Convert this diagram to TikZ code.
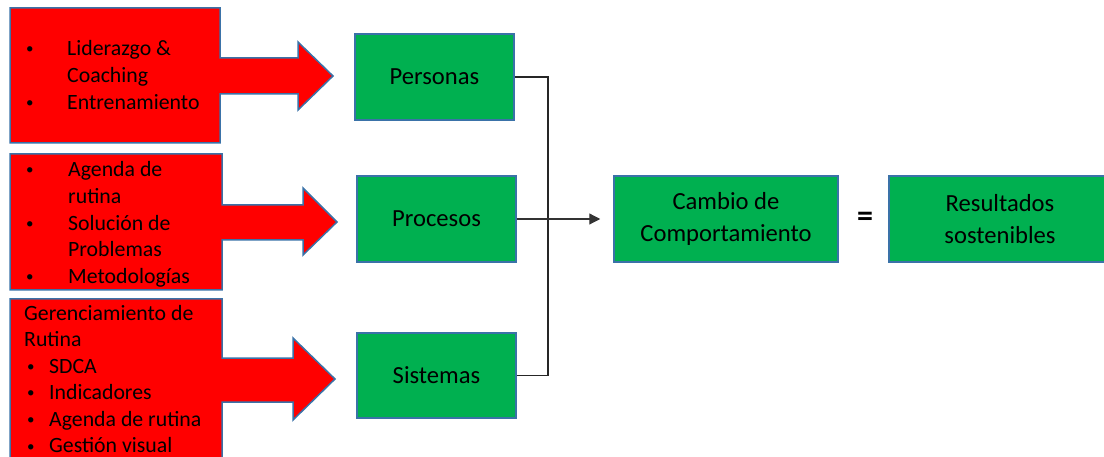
\documentclass[tikz,border=0pt]{standalone}
\usepackage{fontspec}
\setmainfont{Carlito}
\usetikzlibrary{arrows.meta,calc}
\definecolor{redfill}{HTML}{FF0000}
\definecolor{greenfill}{HTML}{00B050}
\definecolor{edgeblue}{HTML}{3A72A8}
\newcommand\bulitem[1]{\makebox[#1pt][l]{\hspace{3pt}\raisebox{2pt}{\fontsize{15}{15}\selectfont •}}}
\tikzset{
  redshape/.style={fill=redfill, draw=edgeblue, line width=1.5pt, line join=miter},
  redtext/.style={anchor=base west, inner sep=0pt, font=\fontsize{21.8}{26.6}\selectfont, text=black},
  greenbox/.style={rectangle, fill=greenfill, draw=edgeblue, line width=1.5pt, inner sep=0pt, align=center,
     font=\fontsize{24.6}{32}\selectfont, text=black},
  conn/.style={draw=black!85, line width=1.6pt},
  arr/.style={draw=black!80, line width=1.2pt, -{Triangle[length=11pt,width=11pt]}},
}
\begin{document}
\begin{tikzpicture}[x=1pt,y=-1pt]
\useasboundingbox (0,0) rectangle (1104,457);
% red block arrows
\path[redshape] (10,8)--(220,8)--(220,58)--(298,58)--(298,42)--(333,76)--(298,110)--(298,94)--(220,94)--(220,143)--(10,143)--cycle;
\path[redshape] (10,154)--(222,154)--(222,205)--(303,205)--(303,188)--(337,222)--(303,255)--(303,240)--(222,240)--(222,290)--(10,290)--cycle;
\path[redshape] (10,299)--(222,299)--(222,358)--(293,358)--(293,338)--(335,379)--(293,420)--(293,402)--(222,402)--(222,475)--(10,475)--cycle;
% texts
\node[redtext] (t1) at (23,56) {\begin{tabular}[t]{@{}l@{}}
\bulitem{44}Liderazgo \&\\
\hspace{44pt}Coaching\\
\bulitem{44}Entrenamiento
\end{tabular}};
\node[redtext] (t2) at (23,177) {\begin{tabular}[t]{@{}l@{}}
\bulitem{45}Agenda de\\
\hspace{45pt}rutina\\
\bulitem{45}Solución de\\
\hspace{45pt}Problemas\\
\bulitem{45}Metodologías
\end{tabular}};
\node[redtext] (t3) at (24,320) {\begin{tabular}[t]{@{}l@{}}
Gerenciamiento de\\
Rutina\\
\bulitem{25}SDCA\\
\bulitem{25}Indicadores\\
\bulitem{25}Agenda de rutina\\
\bulitem{25}Gestión visual
\end{tabular}};
% green boxes
\node[greenbox, minimum width=159pt, minimum height=86pt] (pers) at (434.5,77) {Personas};
\node[greenbox, minimum width=159pt, minimum height=86pt] (proc) at (436.5,219) {Procesos};
\node[greenbox, minimum width=159pt, minimum height=85pt] (sist) at (436.5,375.5) {Sistemas};
\node[greenbox, minimum width=224pt, minimum height=86pt] (camb) at (726,219) {Cambio de\\Comportamiento};
\node[greenbox, minimum width=222pt, minimum height=86pt] (res) at (1000,219) {Resultados\\sostenibles};
\node[inner sep=0pt, font=\fontsize{32}{32}\selectfont\bfseries] (eq) at (865,219) {=};
% connectors
\coordinate (bus) at (548,0);
\draw[conn] (pers.east) -| (bus |- sist.east) -- (sist.east);
\draw[arr, shorten >=13pt] (proc.east) -- (camb.west);
\end{tikzpicture}
\end{document}
